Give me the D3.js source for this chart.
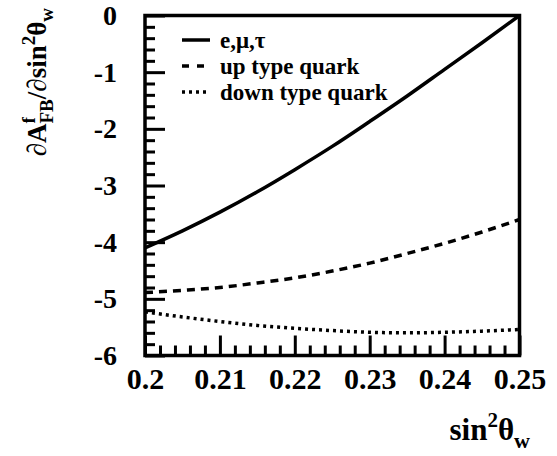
<!DOCTYPE html>
<html>
<head>
<meta charset="utf-8">
<script src="https://cdn.jsdelivr.net/npm/d3@7"></script>
<style>
  html, body { margin: 0; padding: 0; background: #fff; }
  svg { display: block; }
</style>
</head>
<body>
<svg id="chart" width="557" height="456"></svg>
<script>
// sin^2(theta_w) sample points
const sin2w = [0.200, 0.205, 0.210, 0.215, 0.220, 0.225, 0.230, 0.235, 0.240, 0.245, 0.250];
// dA_FB/dsin^2(theta_w) for each fermion family
const leptons   = [-4.10, -3.80, -3.47, -3.11, -2.72, -2.31, -1.87, -1.42, -0.95, -0.48, 0.00];
const upQuark   = [-4.89, -4.85, -4.80, -4.72, -4.63, -4.51, -4.37, -4.20, -4.02, -3.82, -3.60];
const downQuark = [-5.23, -5.32, -5.40, -5.47, -5.52, -5.56, -5.59, -5.60, -5.59, -5.57, -5.54];

const xMajor = [0.20, 0.21, 0.22, 0.23, 0.24, 0.25];
const yMajor = [0, -1, -2, -3, -4, -5, -6];
const xTickLabels = ["0.2", "0.21", "0.22", "0.23", "0.24", "0.25"];
const yTickLabels = ["0", "-1", "-2", "-3", "-4", "-5", "-6"];

const legendLabels = ["e,\u03bc,\u03c4", "up type quark", "down type quark"];

const FONT = "'Liberation Serif', 'Times New Roman', serif";

const svg = d3.select("#chart")
  .style("font-family", FONT)
  .attr("font-weight", "bold");
const frame = { left: 145, right: 519.5, top: 15.5, bottom: 355.5 };

const x = d3.scaleLinear().domain([0.2, 0.25]).range([frame.left, frame.right]);
const y = d3.scaleLinear().domain([-6, 0]).range([frame.bottom, frame.top]);

// minor tick positions: five subdivisions between major ticks
const xMinor = d3.range(0, 26).map(i => 0.2 + i * 0.002).filter(v => !xMajor.some(m => Math.abs(m - v) < 1e-9));
const yMinor = d3.range(0, 31).map(i => -6 + i * 0.2).filter(v => !yMajor.some(m => Math.abs(m - v) < 1e-9));

function styleAxis(g) {
  g.select(".domain").remove();
  g.selectAll(".tick line").attr("stroke", "#000").attr("stroke-width", 3);
  g.attr("font-family", null).attr("font-size", null);
  g.selectAll("text").attr("fill", "#000").style("font-family", FONT).attr("font-weight", "bold");
}

// x axis: minor then major ticks, pointing into the frame
svg.append("g").attr("transform", `translate(0,${frame.bottom})`)
  .call(d3.axisBottom(x).tickValues(xMinor).tickSize(-10).tickFormat(""))
  .call(styleAxis);
const gx = svg.append("g").attr("transform", `translate(0,${frame.bottom})`)
  .call(d3.axisBottom(x).tickValues(xMajor).tickSize(-20).tickPadding(12)
    .tickFormat((d, i) => xTickLabels[i]))
  .call(styleAxis);
gx.selectAll("text").attr("font-size", 30);

// y axis
svg.append("g").attr("transform", `translate(${frame.left},0)`)
  .call(d3.axisLeft(y).tickValues(yMinor).tickSize(-10).tickFormat(""))
  .call(styleAxis);
const gy = svg.append("g").attr("transform", `translate(${frame.left},0)`)
  .call(d3.axisLeft(y).tickValues(yMajor).tickSize(-20).tickPadding(28)
    .tickFormat((d, i) => yTickLabels[i]))
  .call(styleAxis);
gy.selectAll("text").attr("font-size", 28);

// curves
const line = d3.line().x((d, i) => x(sin2w[i])).y(d => y(d)).curve(d3.curveMonotoneX);
const series = [
  { values: leptons,   dash: null,  legendDash: null },
  { values: upQuark,   dash: "8,6", legendDash: "7,8" },
  { values: downQuark, dash: "3,4", legendDash: "3,4" }
];
const plot = svg.append("g");
series.forEach(s => {
  plot.append("path")
    .attr("d", line(s.values))
    .attr("fill", "none")
    .attr("stroke", "#000")
    .attr("stroke-width", 3.5)
    .attr("stroke-dasharray", s.dash);
});

// frame
svg.append("rect")
  .attr("x", frame.left).attr("y", frame.top)
  .attr("width", frame.right - frame.left).attr("height", frame.bottom - frame.top)
  .attr("fill", "none").attr("stroke", "#000").attr("stroke-width", 3.5);

// legend
const legend = svg.append("g");
legendLabels.forEach((lab, i) => {
  const ly = 40 + i * 26;
  legend.append("line")
    .attr("x1", 182).attr("x2", 210).attr("y1", ly).attr("y2", ly)
    .attr("stroke", "#000").attr("stroke-width", 3.5)
    .attr("stroke-dasharray", series[i].legendDash);
  legend.append("text")
    .attr("x", 220).attr("y", ly).attr("dy", "0.33em")
    .attr("font-size", 23).text(lab);
});

// x title: sin^2 theta_w
const xt = svg.append("text").attr("x", 530).attr("y", 440)
  .attr("text-anchor", "end").attr("font-size", 31);
xt.append("tspan").text("sin");
xt.append("tspan").attr("font-size", 21).attr("dy", -13).text("2");
xt.append("tspan").attr("dy", 13).text("\u03b8");
xt.append("tspan").attr("font-size", 22).attr("dy", 8).text("w");

// y title: dA^f_FB / dsin^2 theta_w
const yt = svg.append("text")
  .attr("transform", "translate(46,8) rotate(-90)")
  .attr("text-anchor", "end").attr("font-size", 27);
yt.append("tspan").text("\u2202A");
const fsup = yt.append("tspan").attr("font-size", 19).attr("dy", -11).text("f");
const fbSub = yt.append("tspan").attr("font-size", 19).attr("dy", 18).text("FB");
yt.append("tspan").attr("dy", -7).text("/\u2202sin");
yt.append("tspan").attr("font-size", 19).attr("dy", -11).text("2");
yt.append("tspan").attr("dy", 11).text("\u03b8");
yt.append("tspan").attr("font-size", 19).attr("dy", 7).text("w");
// stack the FB subscript under the f superscript
fbSub.attr("dx", -fsup.node().getComputedTextLength());
</script>
</body>
</html>
